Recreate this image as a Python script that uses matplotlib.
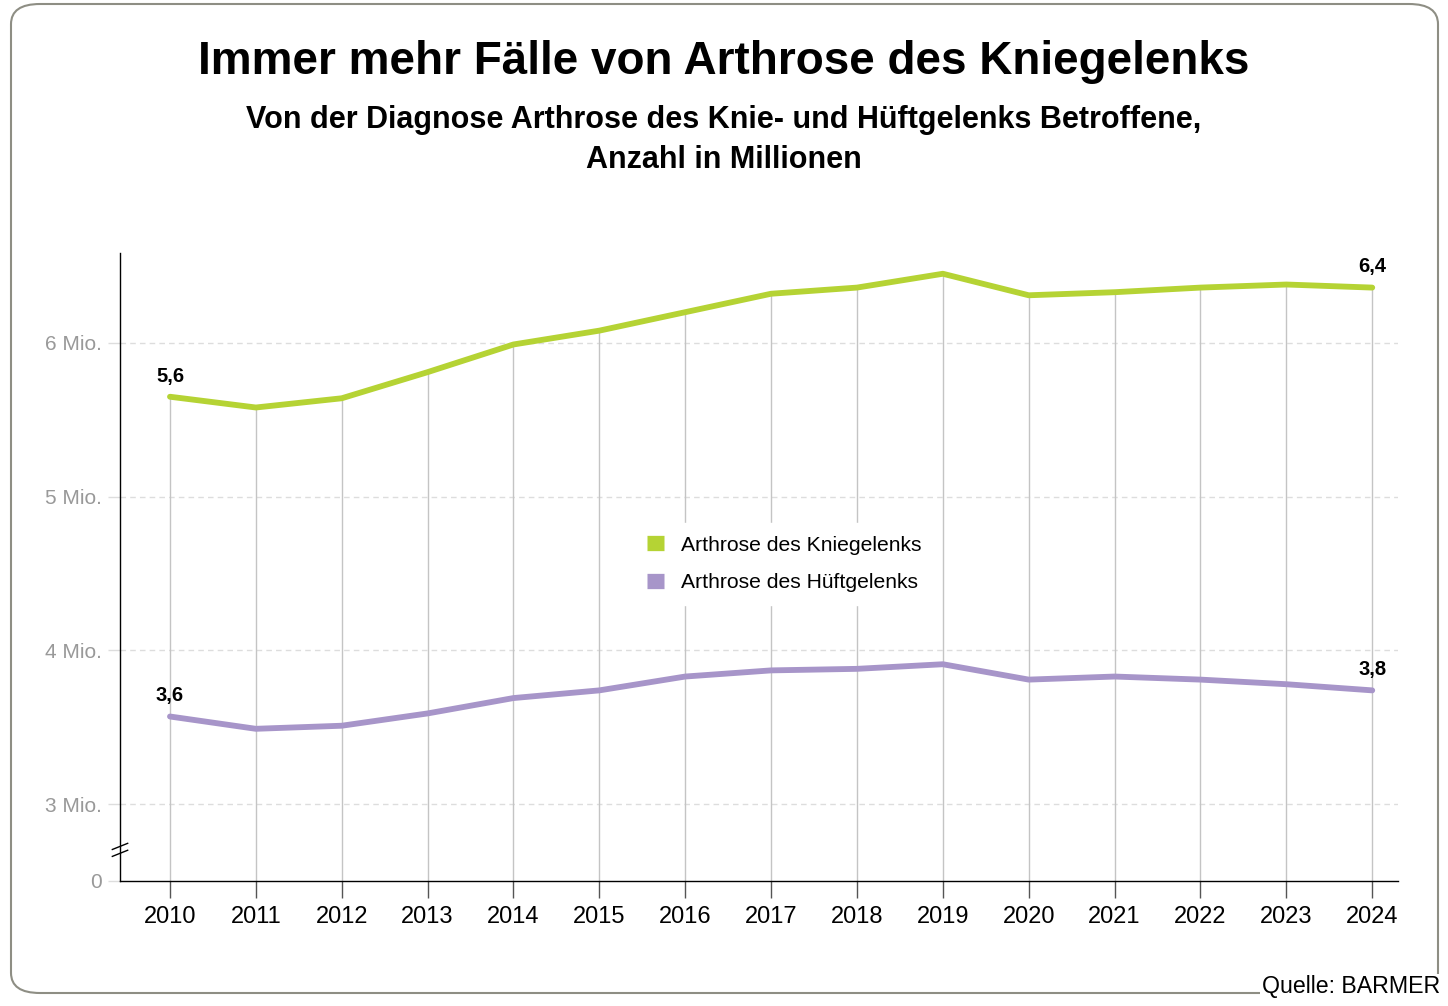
from __future__ import annotations

import matplotlib

matplotlib.use("Agg")
from matplotlib import pyplot as plt
from matplotlib import transforms
from matplotlib.patches import FancyBboxPatch

YEARS = [2010, 2011, 2012, 2013, 2014, 2015, 2016, 2017, 2018, 2019, 2020, 2021, 2022, 2023, 2024]
KNIE = [5.65, 5.58, 5.64, 5.81, 5.99, 6.08, 6.20, 6.32, 6.36, 6.45, 6.31, 6.33, 6.36, 6.38, 6.36]
HUEFTE = [3.57, 3.49, 3.51, 3.59, 3.69, 3.74, 3.83, 3.87, 3.88, 3.91, 3.81, 3.83, 3.81, 3.78, 3.74]
KNIE_LABELS = ["5,6", "6,4"]
HUEFTE_LABELS = ["3,6", "3,8"]
Y_TICKS = [2.5, 3, 4, 5, 6]
Y_LABELS = ["0", "3 Mio.", "4 Mio.", "5 Mio.", "6 Mio."]

GREEN = "#b5d334"
PURPLE = "#a795c9"

plt.rcParams["font.family"] = ["Liberation Sans", "DejaVu Sans"]


def main() -> None:
    fig = plt.figure(figsize=(14.48, 10.06), dpi=100)
    ax = fig.add_axes([120 / 1448, 1 - 881 / 1006, 1278 / 1448, 628 / 1006])

    # rounded frame around everything
    frame = FancyBboxPatch((11 / 1448, 13 / 1006), 1427 / 1448, 989 / 1006,
                           boxstyle="round,pad=0,rounding_size=0.02",
                           transform=fig.transFigure, facecolor="none",
                           edgecolor="#8e8e84", linewidth=1.5, zorder=0)
    fig.patches.append(frame)

    ax.set_xlim(2009.418, 2024.30)
    ax.set_ylim(2.5, 6.585)

    for y in Y_TICKS[1:]:
        ax.axhline(y, color="#dddddd", linestyle=(0, (4, 3)), linewidth=1, zorder=1)

    ax.vlines(YEARS, 2.5, KNIE, color="#c4c4c4", linewidth=1, zorder=1)

    ax.plot(YEARS, KNIE, color=GREEN, linewidth=4.2, solid_capstyle="round",
            solid_joinstyle="round", zorder=3, label="Arthrose des Kniegelenks")
    ax.plot(YEARS, HUEFTE, color=PURPLE, linewidth=4.2, solid_capstyle="round",
            solid_joinstyle="round", zorder=3, label="Arthrose des Hüftgelenks")

    for series, labels in ((KNIE, KNIE_LABELS), (HUEFTE, HUEFTE_LABELS)):
        for i, text in zip((0, -1), labels):
            ax.annotate(text, (YEARS[i], series[i]), xytext=(0, 8), textcoords="offset points",
                        ha="center", va="bottom", fontsize=14.5, fontweight="bold", zorder=4)

    ax.set_xticks(YEARS)
    ax.set_xticklabels([str(y) for y in YEARS], fontsize=17)
    ax.tick_params(axis="x", length=12, width=1, color="#555555", pad=6)

    ax.set_yticks(Y_TICKS)
    ax.set_yticklabels(Y_LABELS, fontsize=15, color="#999999")
    ax.tick_params(axis="y", length=9, width=1, color="#dddddd", pad=4)
    ax.yaxis.get_major_ticks()[0].tick1line.set_color("#777777")

    for side in ("top", "right"):
        ax.spines[side].set_visible(False)
    ax.spines["left"].set_linewidth(1)
    ax.spines["bottom"].set_linewidth(1)

    # axis break marks
    trans = transforms.blended_transform_factory(ax.transAxes, ax.transData)
    for dy in (0, 0.045):
        ax.plot([-0.006, 0.006], [2.66 + dy, 2.70 + dy], color="black", linewidth=1,
                transform=trans, clip_on=False, zorder=5)

    leg = ax.legend(loc="center", bbox_to_anchor=(0.52, 0.505), frameon=True, fontsize=15.2,
                    handlelength=0.8, handleheight=0.8, handletextpad=0.8, labelspacing=0.85,
                    edgecolor="white", facecolor="white", framealpha=1, borderpad=0.6)
    for handle in leg.legend_handles:
        handle.set_linewidth(11)
        handle.set_solid_capstyle("butt")

    fig.text(0.5, 1 - 62 / 1006, "Immer mehr Fälle von Arthrose des Kniegelenks",
             ha="center", va="center", fontsize=33, fontweight="bold")
    fig.text(0.5, 1 - 140 / 1006,
             "Von der Diagnose Arthrose des Knie- und Hüftgelenks Betroffene,\nAnzahl in Millionen",
             ha="center", va="center", fontsize=22, fontweight="bold", linespacing=1.43)
    fig.text(1440 / 1448, 1 - 987 / 1006, "Quelle: BARMER", ha="right", va="center", fontsize=16.7,
             bbox=dict(facecolor="white", edgecolor="none", pad=1))

    fig.savefig("out.png", dpi=100)


if __name__ == "__main__":
    main()
